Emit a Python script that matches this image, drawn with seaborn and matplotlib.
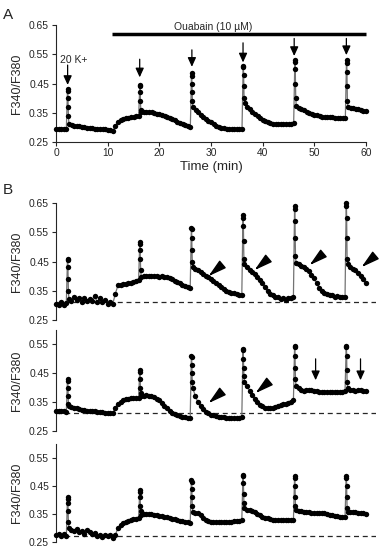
import numpy as np
import pandas as pd
import matplotlib
matplotlib.use("Agg")
import matplotlib.pyplot as plt
import seaborn as sns

# sampling times (min) and K+ pulse onsets
base_t = np.arange(0, 60.01, 0.5)
spike_t = [2.2, 16.2, 26.2, 36.2, 46.2, 56.2]
spike_dt = [0.03, 0.07, 0.11, 0.15, 0.2]

# panel A trace
a_base = [0.295, 0.294, 0.295, 0.293, 0.294,
          0.310, 0.308, 0.306, 0.305, 0.303, 0.302, 0.300, 0.299, 0.298, 0.297,
          0.296, 0.295, 0.294, 0.293, 0.293, 0.292, 0.291, 0.288,
          0.305, 0.318, 0.325, 0.328, 0.331, 0.333, 0.335, 0.337, 0.338, 0.340,
          0.352, 0.353, 0.353, 0.352, 0.351, 0.349, 0.347, 0.345, 0.342, 0.339,
          0.336, 0.332, 0.328, 0.324, 0.320, 0.316, 0.312, 0.308, 0.304, 0.301,
          0.368, 0.358, 0.351, 0.344, 0.337, 0.330, 0.323, 0.317, 0.311, 0.306,
          0.302, 0.299, 0.297, 0.296, 0.295, 0.294, 0.294, 0.294, 0.294, 0.295,
          0.385, 0.370, 0.362, 0.354, 0.346, 0.339, 0.332, 0.326, 0.321, 0.317,
          0.314, 0.312, 0.311, 0.310, 0.310, 0.311, 0.311, 0.312, 0.313, 0.314,
          0.372, 0.366, 0.362, 0.358, 0.354, 0.350, 0.347, 0.344, 0.341, 0.339,
          0.337, 0.336, 0.335, 0.334, 0.334, 0.333, 0.333, 0.333, 0.332, 0.331,
          0.368, 0.366, 0.365, 0.364, 0.362, 0.359, 0.357, 0.356]
a_spikes = [[0.43, 0.425, 0.40, 0.37, 0.34],
            [0.445, 0.44, 0.42, 0.39, 0.36],
            [0.485, 0.475, 0.45, 0.42, 0.39],
            [0.51, 0.505, 0.48, 0.44, 0.40],
            [0.53, 0.525, 0.50, 0.45, 0.40],
            [0.53, 0.52, 0.49, 0.44, 0.39]]

# panel B, cell 1
b1_base = [0.305, 0.300, 0.310, 0.302, 0.308,
           0.322, 0.315, 0.328, 0.318, 0.325, 0.312, 0.326, 0.314, 0.322, 0.316,
           0.332, 0.310, 0.324, 0.313, 0.320, 0.306, 0.310, 0.305,
           0.340, 0.368, 0.370, 0.372, 0.374, 0.376, 0.378, 0.381, 0.383, 0.386,
           0.398, 0.400, 0.401, 0.399, 0.402, 0.400, 0.401, 0.398, 0.399, 0.397,
           0.396, 0.393, 0.389, 0.385, 0.380, 0.375, 0.370, 0.366, 0.362, 0.358,
           0.432, 0.425, 0.420, 0.414, 0.408, 0.402, 0.397, 0.390, 0.383, 0.376,
           0.369, 0.362, 0.356, 0.350, 0.346, 0.343, 0.341, 0.339, 0.337, 0.335,
           0.440, 0.430, 0.422, 0.415, 0.407, 0.398, 0.388, 0.375, 0.362, 0.350,
           0.340, 0.334, 0.330, 0.327, 0.322, 0.325, 0.320, 0.326, 0.324, 0.328,
           0.445, 0.440, 0.435, 0.430, 0.423, 0.416, 0.405, 0.392, 0.375, 0.360,
           0.350, 0.344, 0.340, 0.336, 0.334, 0.330, 0.331, 0.329, 0.330, 0.328,
           0.440, 0.430, 0.425, 0.420, 0.412, 0.402, 0.390, 0.376]
b1_spikes = [[0.46, 0.455, 0.43, 0.39, 0.35],
             [0.515, 0.51, 0.49, 0.46, 0.42],
             [0.565, 0.56, 0.53, 0.49, 0.45],
             [0.61, 0.60, 0.57, 0.52, 0.46],
             [0.64, 0.63, 0.59, 0.53, 0.47],
             [0.65, 0.64, 0.60, 0.53, 0.46]]

# panel B, cell 2
b2_base = [0.320, 0.319, 0.320, 0.318, 0.317,
           0.335, 0.333, 0.330, 0.328, 0.326, 0.324, 0.323, 0.321, 0.320, 0.319,
           0.318, 0.317, 0.316, 0.315, 0.314, 0.313, 0.313, 0.312,
           0.330, 0.345, 0.352, 0.357, 0.360, 0.362, 0.363, 0.364, 0.365, 0.366,
           0.372, 0.373, 0.374, 0.373, 0.371, 0.367, 0.362, 0.356, 0.348, 0.338,
           0.328, 0.320, 0.313, 0.308, 0.305, 0.302, 0.300, 0.298, 0.296, 0.295,
           0.400, 0.370, 0.350, 0.337, 0.326, 0.317, 0.311, 0.307, 0.304, 0.301,
           0.299, 0.298, 0.297, 0.296, 0.296, 0.295, 0.295, 0.295, 0.296, 0.297,
           0.420, 0.405, 0.390, 0.375, 0.362, 0.350, 0.341, 0.335, 0.330, 0.328,
           0.328, 0.330, 0.333, 0.336, 0.339, 0.342, 0.345, 0.348, 0.352, 0.356,
           0.405, 0.398, 0.392, 0.390, 0.391, 0.392, 0.391, 0.389, 0.387, 0.386,
           0.385, 0.384, 0.385, 0.384, 0.385, 0.384, 0.385, 0.385, 0.386, 0.387,
           0.398, 0.393, 0.391, 0.390, 0.392, 0.391, 0.390, 0.388]
b2_spikes = [[0.43, 0.425, 0.40, 0.37, 0.345],
             [0.46, 0.455, 0.43, 0.40, 0.38],
             [0.51, 0.505, 0.48, 0.45, 0.42],
             [0.535, 0.53, 0.50, 0.47, 0.44],
             [0.545, 0.54, 0.51, 0.47, 0.43],
             [0.545, 0.54, 0.51, 0.46, 0.42]]

# panel B, cell 3
b3_base = [0.275, 0.280, 0.272, 0.278, 0.270,
           0.300, 0.292, 0.288, 0.295, 0.285, 0.290, 0.280, 0.292, 0.286, 0.278,
           0.282, 0.270, 0.275, 0.268, 0.276, 0.270, 0.274, 0.265,
           0.275, 0.300, 0.312, 0.318, 0.322, 0.325, 0.328, 0.331, 0.333, 0.335,
           0.346, 0.349, 0.350, 0.350, 0.349, 0.348, 0.346, 0.344, 0.342, 0.340,
           0.338, 0.336, 0.333, 0.331, 0.328, 0.326, 0.324, 0.322, 0.320, 0.318,
           0.356, 0.355, 0.352, 0.345, 0.336, 0.330, 0.325, 0.322, 0.321, 0.320,
           0.320, 0.321, 0.321, 0.322, 0.323, 0.323, 0.324, 0.325, 0.326, 0.328,
           0.370, 0.365, 0.366, 0.362, 0.356, 0.350, 0.345, 0.340, 0.337, 0.334,
           0.332, 0.330, 0.329, 0.328, 0.328, 0.327, 0.327, 0.327, 0.327, 0.327,
           0.365, 0.362, 0.360, 0.358, 0.357, 0.356, 0.355, 0.354, 0.354, 0.353,
           0.353, 0.352, 0.350, 0.348, 0.346, 0.344, 0.342, 0.340, 0.339, 0.338,
           0.358, 0.356, 0.357, 0.356, 0.355, 0.354, 0.353, 0.351]
b3_spikes = [[0.41, 0.405, 0.39, 0.36, 0.32],
             [0.435, 0.43, 0.41, 0.38, 0.36],
             [0.47, 0.465, 0.44, 0.41, 0.38],
             [0.49, 0.485, 0.46, 0.42, 0.39],
             [0.485, 0.48, 0.45, 0.41, 0.38],
             [0.485, 0.48, 0.45, 0.41, 0.37]]

# dashed resting levels for B
b_rest = [0.312, 0.312, 0.272]

# annotations
a_arrow_t = [2.25, 16.2, 26.3, 36.2, 46.1, 56.2]
a_arrow_top = [0.513, 0.533, 0.565, 0.589, 0.604, 0.604]
a_arrow_tip = [0.445, 0.471, 0.507, 0.522, 0.544, 0.547]
b1_head_t = [29.8, 38.8, 49.5, 59.4]
b1_head_v = [0.407, 0.427, 0.444, 0.438]
b2_head_t = [29.8, 39.0]
b2_head_v = [0.353, 0.388]
b2_arrow_t = [50.3, 59.0]
b2_arrow_top = [0.50, 0.50]
b2_arrow_tip = [0.426, 0.426]
ouabain_start, ouabain_end = 10.8, 60


def trace_df(base, spikes):
    t = list(base_t) + [s + d for s in spike_t for d in spike_dt]
    v = list(base) + [x for sp in spikes for x in sp]
    return pd.DataFrame({"t": t, "v": v}).sort_values("t")


sns.set_style("ticks")
plt.rcParams["font.family"] = ["Liberation Sans", "DejaVu Sans"]
plt.rcParams["axes.linewidth"] = 0.8
plt.rcParams["xtick.major.size"] = 3
plt.rcParams["ytick.major.size"] = 3
plt.rcParams["xtick.major.width"] = 0.8
plt.rcParams["ytick.major.width"] = 0.8
plt.rcParams["xtick.major.pad"] = 1.5
plt.rcParams["ytick.major.pad"] = 2
plt.rcParams["xtick.labelsize"] = 7.4
plt.rcParams["ytick.labelsize"] = 7.4

W, H = 384, 550
fig = plt.figure(figsize=(W / 100, H / 100), dpi=100)


def px_axes(top, bottom, right):
    return fig.add_axes([56 / W, 1 - bottom / H, (right - 56) / W, (bottom - top) / H])


axA = px_axes(25, 142, 366)
axB1 = px_axes(203, 320, 376)
axB2 = px_axes(330, 431, 376)
axB3 = px_axes(444, 542, 376)

# arrowhead marker pointing down-left
ang = np.deg2rad(220)
d = np.array([np.cos(ang), np.sin(ang)])
p = np.array([-d[1], d[0]]) * 0.27
head_marker = [(0, 0), tuple(-d + p), tuple(-d - p), (0, 0)]

panels = [(axA, a_base, a_spikes), (axB1, b1_base, b1_spikes),
          (axB2, b2_base, b2_spikes), (axB3, b3_base, b3_spikes)]
for ax, base, spikes in panels:
    df = trace_df(base, spikes)
    sns.lineplot(data=df, x="t", y="v", ax=ax, color="0.45", lw=0.9,
                 estimator=None, sort=False, legend=False)
    sns.scatterplot(data=df, x="t", y="v", ax=ax, color="black", s=15,
                    linewidth=0, legend=False, clip_on=False, zorder=3)
    ax.set_ylabel("F340/F380", fontsize=9)
    ax.set_xlabel("")

axA.set_xlim(0, 60)
axA.set_ylim(0.25, 0.65)
axA.set_xticks([0, 10, 20, 30, 40, 50, 60])
axA.set_yticks([0.25, 0.35, 0.45, 0.55, 0.65])
axA.set_xlabel("Time (min)", fontsize=9.5, labelpad=2)
sns.despine(ax=axA)
axA.yaxis.set_label_coords(-33 / 310, 0.5)

ylims = [(0.25, 0.65), (0.25, 0.6), (0.25, 0.6)]
for ax, yl, rest in zip([axB1, axB2, axB3], ylims, b_rest):
    ax.set_xlim(0, 62)
    ax.set_ylim(*yl)
    ax.set_yticks([v for v in [0.25, 0.35, 0.45, 0.55, 0.65] if v <= yl[1] + 1e-9])
    ax.set_xticks([])
    sns.despine(ax=ax, bottom=True)
    ax.axhline(rest, color="0.15", lw=0.9, ls=(0, (4, 3)), zorder=1)
    ax.yaxis.set_label_coords(-33 / 320, 0.5)

for ax in [axA, axB1, axB2, axB3]:
    ax.yaxis.set_major_formatter(matplotlib.ticker.FormatStrFormatter("%.2f"))

# panel A annotations
axA.plot([ouabain_start, ouabain_end], [0.619, 0.619], color="black", lw=2.5,
         solid_capstyle="butt", clip_on=False)
axA.text(30.4, 0.627, "Ouabain (10 \u00b5M)", ha="center", va="bottom", fontsize=7.5)
axA.text(3.4, 0.53, "20 K+", ha="center", va="center", fontsize=7.5)
for t, top, tip in zip(a_arrow_t, a_arrow_top, a_arrow_tip):
    axA.annotate("", xy=(t, tip), xytext=(t, top),
                 arrowprops=dict(arrowstyle="-|>,head_length=0.55,head_width=0.25",
                                 color="black", lw=0.9, shrinkA=0, shrinkB=0))

# panel B annotations
axB1.plot(b1_head_t, b1_head_v, ls="none", marker=head_marker, ms=21,
          color="black", clip_on=False)
axB2.plot(b2_head_t, b2_head_v, ls="none", marker=head_marker, ms=21,
          color="black", clip_on=False)
for t, top, tip in zip(b2_arrow_t, b2_arrow_top, b2_arrow_tip):
    axB2.annotate("", xy=(t, tip), xytext=(t, top),
                  arrowprops=dict(arrowstyle="-|>,head_length=0.55,head_width=0.25",
                                  color="black", lw=0.9, shrinkA=0, shrinkB=0))

fig.text(3 / W, 1 - 8 / H, "A", fontsize=11, va="top", ha="left")
fig.text(3 / W, 1 - 183 / H, "B", fontsize=11, va="top", ha="left")

fig.savefig("out.png", dpi=100)
